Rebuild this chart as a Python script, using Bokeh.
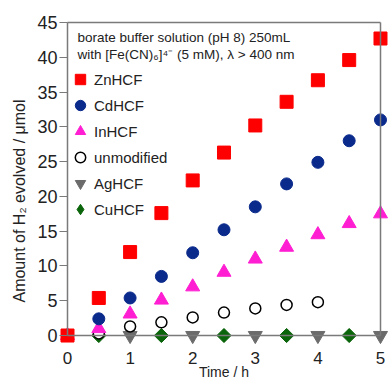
from bokeh.plotting import figure
from bokeh.models import (Range1d, FixedTicker, Legend, LegendItem, Label, LinearAxis)
from bokeh.core.properties import value
from bokeh.embed import file_html
from bokeh.resources import INLINE

# ---- data ----
zn_t = [0, 0.5, 1, 1.5, 2, 2.5, 3, 3.5, 4, 4.5, 5]
zn_v = [0, 5.4, 12.0, 17.6, 22.3, 26.3, 30.2, 33.6, 36.7, 39.6, 42.7]
cd_t = [0.5, 1, 1.5, 2, 2.5, 3, 3.5, 4, 4.5, 5]
cd_v = [2.4, 5.4, 8.5, 11.9, 15.2, 18.5, 21.8, 24.9, 28.0, 31.0]
in_t = [0, 0.5, 1, 1.5, 2, 2.5, 3, 3.5, 4, 4.5, 5]
in_v = [0, 1.0, 3.1, 5.1, 7.0, 9.1, 11.0, 12.7, 14.5, 16.1, 17.5]
un_t = [0.5, 1, 1.5, 2, 2.5, 3, 3.5, 4]
un_v = [0.3, 1.3, 1.9, 2.6, 3.3, 3.9, 4.4, 4.8]
ag_t = [1, 2, 3, 4, 5]
ag_v = [0, 0, 0, 0, 0]
cu_t = [0.5, 1.5, 2.5, 3.5, 4.5]
cu_v = [0, 0, 0, 0, 0]
x_ticks = [0, 1, 2, 3, 4, 5]
x_tick_labels = ["0", "1", "2", "3", "4", "5"]
y_ticks = [0, 5, 10, 15, 20, 25, 30, 35, 40, 45]
x_title = "Time / h"
y_title = "Amount of H\u2082 evolved / \u03bcmol"

FONT = "Liberation Sans"
AXC = "#7a7a7a"
TXT = "#222222"

p = figure(width=389, height=381, output_backend="svg", toolbar_location=None,
           x_range=Range1d(-0.128, 5.144), y_range=Range1d(-6.61, 45.29),
           x_axis_location=None, y_axis_location=None,
           min_border_left=59, min_border_right=0, min_border_top=20, min_border_bottom=0)
p.outline_line_color = None
p.xgrid.visible = False
p.ygrid.visible = False

ya = LinearAxis(ticker=FixedTicker(ticks=y_ticks),
                axis_line_color=None, major_tick_line_color=AXC, major_tick_line_width=1.2,
                major_tick_out=0, major_tick_in=8, minor_tick_line_color=None,
                minor_tick_out=0, minor_tick_in=0,
                major_label_standoff=2, major_label_text_font=FONT,
                major_label_text_font_size="18px", major_label_text_color=TXT,
                axis_label=y_title, axis_label_text_font=FONT,
                axis_label_text_font_style="normal", axis_label_text_font_size="16px",
                axis_label_text_color=TXT, axis_label_standoff=6)
p.add_layout(ya, "left")


def frame_axis(place, loc, bounds):
    ax = LinearAxis(fixed_location=loc, bounds=bounds, ticker=FixedTicker(ticks=[]),
                    axis_line_color=AXC, axis_line_width=1.5,
                    major_tick_line_color=None, minor_tick_line_color=None,
                    major_tick_out=0, major_tick_in=0, minor_tick_out=0, minor_tick_in=0,
                    major_label_standoff=0, axis_label_standoff=0)
    p.add_layout(ax, place)
    return ax


# frame lines at data 0..5 / 0..45
frame_axis("above", y_ticks[0], (x_ticks[0], x_ticks[-1]))
frame_axis("above", y_ticks[-1], (x_ticks[0], x_ticks[-1]))
frame_axis("left", x_ticks[0], (y_ticks[0], y_ticks[-1]))
frame_axis("right", x_ticks[-1], (y_ticks[0], y_ticks[-1]))

# x tick labels and title, hung below the zero line
p.text(x=x_ticks, y=[y_ticks[0]] * len(x_ticks), text=x_tick_labels, y_offset=22,
       text_font=value(FONT), text_font_size="17px", text_color=TXT,
       text_align="center", text_baseline="middle")
p.text(x=[(x_ticks[0] + x_ticks[-1]) / 2], y=[y_ticks[0]], text=[x_title], y_offset=36,
       text_font=value(FONT), text_font_size="14px", text_color=TXT,
       text_align="center", text_baseline="middle")

# series
r_ag = p.scatter(ag_t, ag_v, marker="inverted_triangle", size=14, fill_color="#6b6b6b", line_color="#6b6b6b")
# diamond glyph (hidden under the rotated squares) used for the legend entry
r_cu_leg = p.scatter(cu_t, cu_v, marker="diamond", size=13, fill_color="#0a640a", line_color="#0a640a")
r_cu = p.scatter(cu_t, cu_v, marker="square", angle=0.785398, size=10, fill_color="#0a640a", line_color="#0a640a")
r_un = p.scatter(un_t, un_v, marker="circle", size=11, fill_color="white", line_color="black", line_width=1.5)
r_in = p.scatter(in_t, in_v, marker="triangle", size=14, fill_color="#ff1ed2", line_color="#ff1ed2")
r_cd = p.scatter(cd_t, cd_v, marker="circle", size=12, fill_color="#0a2a8c", line_color="#0a2a8c")
r_zn = p.scatter(zn_t, zn_v, marker="square", size=13, fill_color="#ff0000", line_color="#ff0000")

legend = Legend(items=[
    LegendItem(label="ZnHCF", renderers=[r_zn]),
    LegendItem(label="CdHCF", renderers=[r_cd]),
    LegendItem(label="InHCF", renderers=[r_in]),
    LegendItem(label="unmodified", renderers=[r_un]),
    LegendItem(label="AgHCF", renderers=[r_ag]),
    LegendItem(label="CuHCF", renderers=[r_cu_leg]),
], location=(7, 159), padding=0, margin=0, spacing=0, glyph_width=28, glyph_height=26,
   label_height=20, label_standoff=0, label_text_font=FONT, label_text_font_size="15px",
   label_text_color=TXT, border_line_color=None, background_fill_alpha=0)
p.add_layout(legend, "center")

p.add_layout(Label(x=18, y=344.5, x_units="screen", y_units="screen",
                   text="borate buffer solution (pH 8) 250mL", text_font=FONT,
                   text_font_size="13.5px", text_baseline="middle", text_color=TXT))
p.add_layout(Label(x=18, y=327, x_units="screen", y_units="screen",
                   text="with [Fe(CN)\u2086]\u2074\u207b (5 mM), \u03bb > 400 nm", text_font=FONT,
                   text_font_size="13.5px", text_baseline="middle", text_color=TXT))

open("out.html", "w").write(file_html(p, INLINE))
